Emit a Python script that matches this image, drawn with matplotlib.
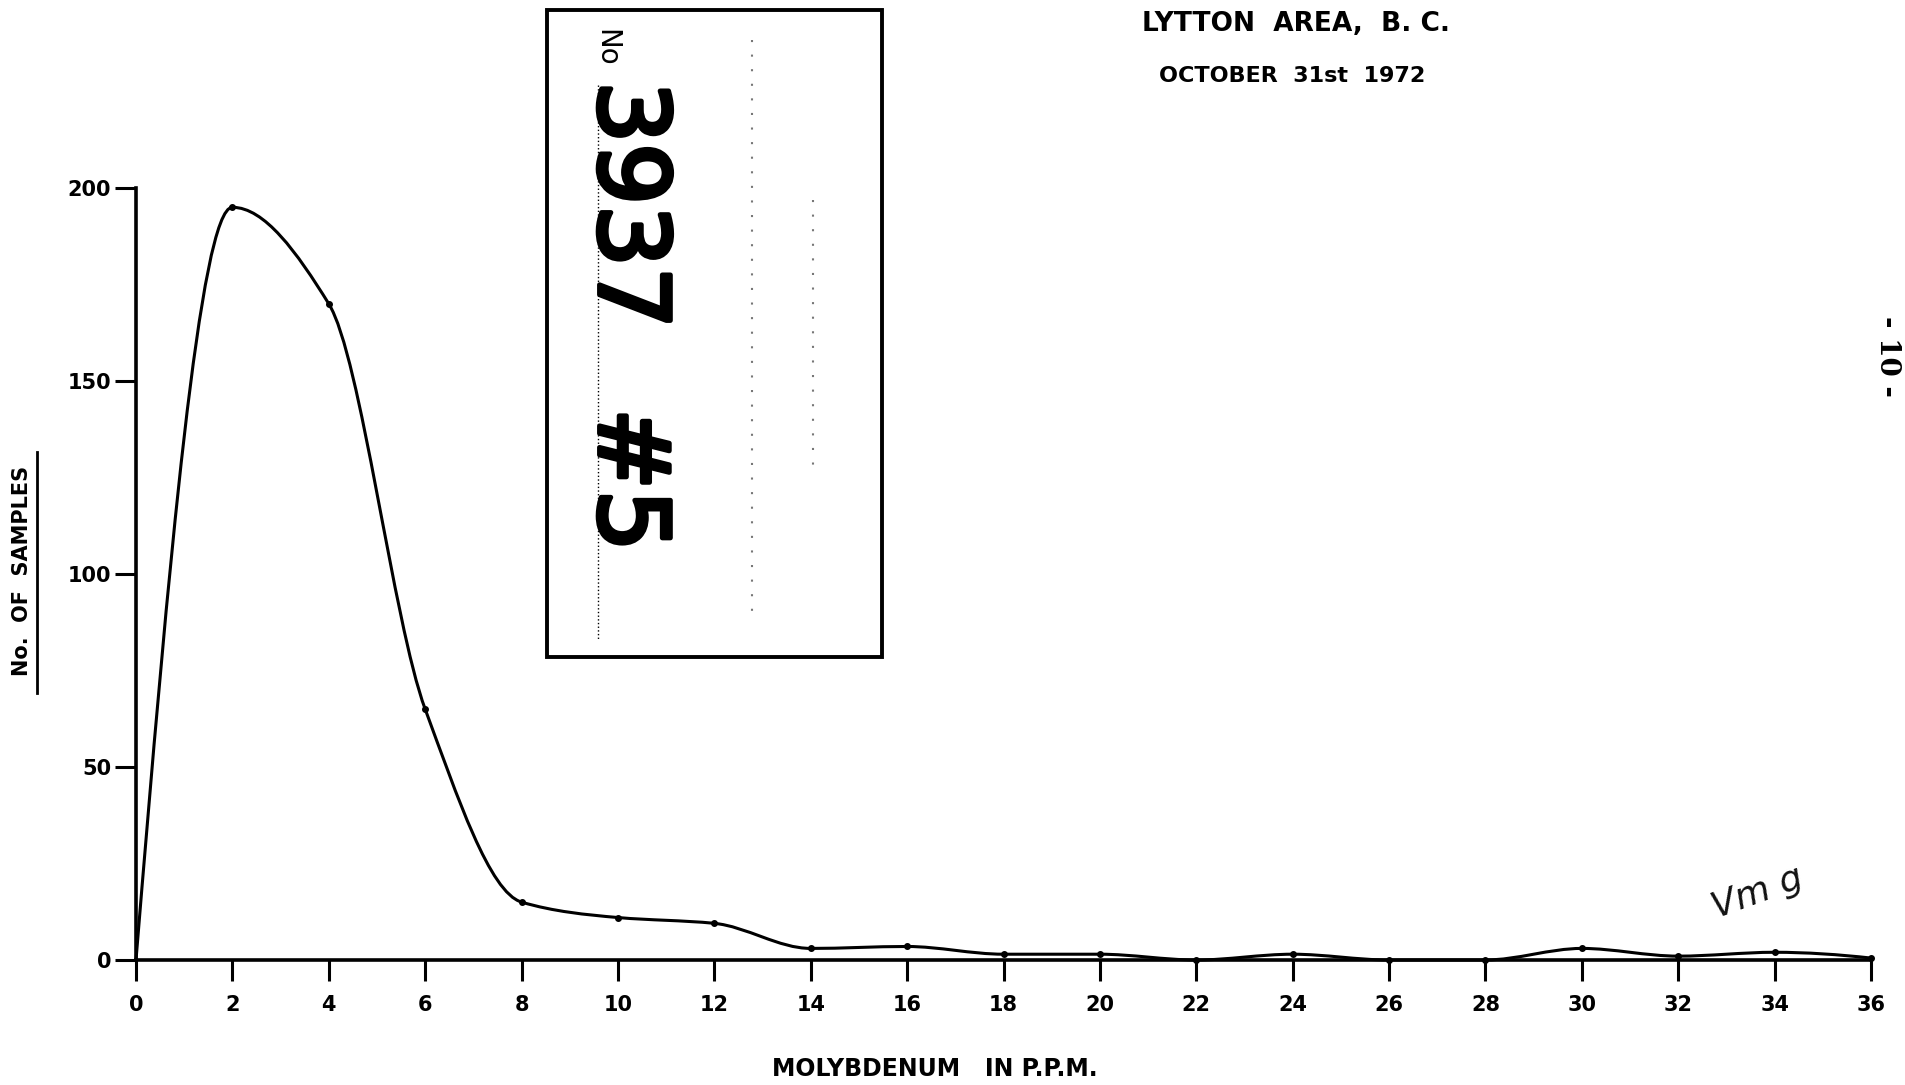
# Histograma suavizado - molibdenio, Lytton Area B.C. (1972)

import matplotlib.pyplot as plt
import matplotlib.patheffects as pe
from matplotlib.path import Path
from matplotlib.patches import PathPatch, Rectangle
import numpy as np

ppm = [0, 2, 4, 6, 8, 10, 12, 14, 16, 18, 20, 22, 24, 26, 28, 30, 32, 34, 36]
amostras = [0, 195, 170, 65, 15, 11, 9.5, 3, 3.5, 1.5, 1.5, 0, 1.5, 0, 0, 3, 1, 2, 0.5]

xticks = list(range(0, 37, 2))
yticks = [0, 50, 100, 150, 200]

titulo = "LYTTON  AREA,  B. C."
data = "OCTOBER  31st  1972"
eixox = "MOLYBDENUM   IN P.P.M."
eixoy = "No.  OF  SAMPLES"

W, H = 1905, 1085


def fx(px):
    return px / W


def fy(py):
    return 1 - py / H


def tangentes(x, y):
    # inclinacoes monotonicas (Fritsch-Carlson) para a curva nao passar de zero
    x = np.asarray(x, float)
    y = np.asarray(y, float)
    h = np.diff(x)
    d = np.diff(y) / h
    m = np.zeros_like(y)
    for i in range(1, len(y) - 1):
        if d[i - 1] * d[i] > 0:
            w1 = 2 * h[i] + h[i - 1]
            w2 = h[i] + 2 * h[i - 1]
            m[i] = (w1 + w2) / (w1 / d[i - 1] + w2 / d[i])
    m[0] = ((2 * h[0] + h[1]) * d[0] - h[0] * d[1]) / (h[0] + h[1])
    m[-1] = ((2 * h[-1] + h[-2]) * d[-1] - h[-1] * d[-2]) / (h[-1] + h[-2])
    if m[-1] * d[-1] <= 0:
        m[-1] = 0
    return m


fig = plt.figure(figsize=(W / 100, H / 100), dpi=100)
ax = fig.add_axes([fx(136), fy(960), fx(1871) - fx(136), fy(188) - fy(960)])

# curva suave com Bezier cubicas pelos pontos
m = tangentes(ppm, amostras)
verts = [(ppm[0], amostras[0])]
codes = [Path.MOVETO]
for i in range(len(ppm) - 1):
    h = ppm[i + 1] - ppm[i]
    verts += [(ppm[i] + h / 3, amostras[i] + m[i] * h / 3),
              (ppm[i + 1] - h / 3, amostras[i + 1] - m[i + 1] * h / 3),
              (ppm[i + 1], amostras[i + 1])]
    codes += [Path.CURVE4] * 3
ax.add_patch(PathPatch(Path(verts, codes), fill=False, color="k", lw=2.2, clip_on=False))
ax.plot(ppm[1:], amostras[1:], "o", color="k", ms=4, clip_on=False)

ax.set_xlim(0, 36)
ax.set_ylim(0, 200)
for lado in ["top", "right"]:
    ax.spines[lado].set_visible(False)
for lado in ["left", "bottom"]:
    ax.spines[lado].set_linewidth(2.6)
ax.set_xticks(xticks)
ax.set_yticks(yticks)
ax.tick_params(axis="x", direction="out", length=15, width=2.2, pad=10, labelsize=15)
ax.tick_params(axis="y", direction="out", length=15, width=2.2, pad=3, labelsize=15)
for t in ax.get_xticklabels() + ax.get_yticklabels():
    t.set_fontweight("bold")

# textos
fig.text(fx(1296), fy(24), titulo, ha="center", va="center", fontsize=19, fontweight="bold")
fig.text(fx(1292), fy(76), data, ha="center", va="center", fontsize=16, fontweight="bold")
fig.text(fx(935), fy(1069), eixox, ha="center", va="center", fontsize=17, fontweight="bold")
fig.text(fx(22), fy(571), eixoy, ha="center", va="center", rotation=90, fontsize=15, fontweight="bold")
fig.add_artist(plt.Line2D([fx(37), fx(37)], [fy(452), fy(693)], color="k", lw=2))
fig.text(fx(1887), fy(356), "- 10 -", ha="center", va="center", rotation=-90,
         fontsize=20, family="DejaVu Serif", fontweight="bold")
fig.text(fx(1758), fy(893), "Vm g", ha="center", va="center", rotation=20,
         fontsize=26, style="italic", color="#111111")

# carimbo
grosso = [pe.withStroke(linewidth=3.5, foreground="k")]
fig.add_artist(Rectangle((fx(547), fy(657)), fx(882) - fx(547), fy(10) - fy(657),
                         fill=False, ec="k", lw=2.8))
fig.text(fx(606), fy(48), "No", ha="center", va="center", rotation=-90, fontsize=20)
fig.text(fx(626), fy(205), "3937", ha="center", va="center", rotation=-90, fontsize=70,
         path_effects=grosso)
fig.text(fx(626), fy(480), "#5", ha="center", va="center", rotation=-90, fontsize=70,
         path_effects=grosso)
fig.add_artist(plt.Line2D([fx(598), fx(598)], [fy(85), fy(640)], color="k", lw=1, ls=":"))
fig.add_artist(plt.Line2D([fx(752), fx(752)], [fy(40), fy(620)], color="#777777", lw=1.5, ls=(0, (1, 6))))
fig.add_artist(plt.Line2D([fx(813), fx(813)], [fy(200), fy(470)], color="#777777", lw=1.5, ls=(0, (1, 6))))

plt.savefig("out.png", dpi=100)
